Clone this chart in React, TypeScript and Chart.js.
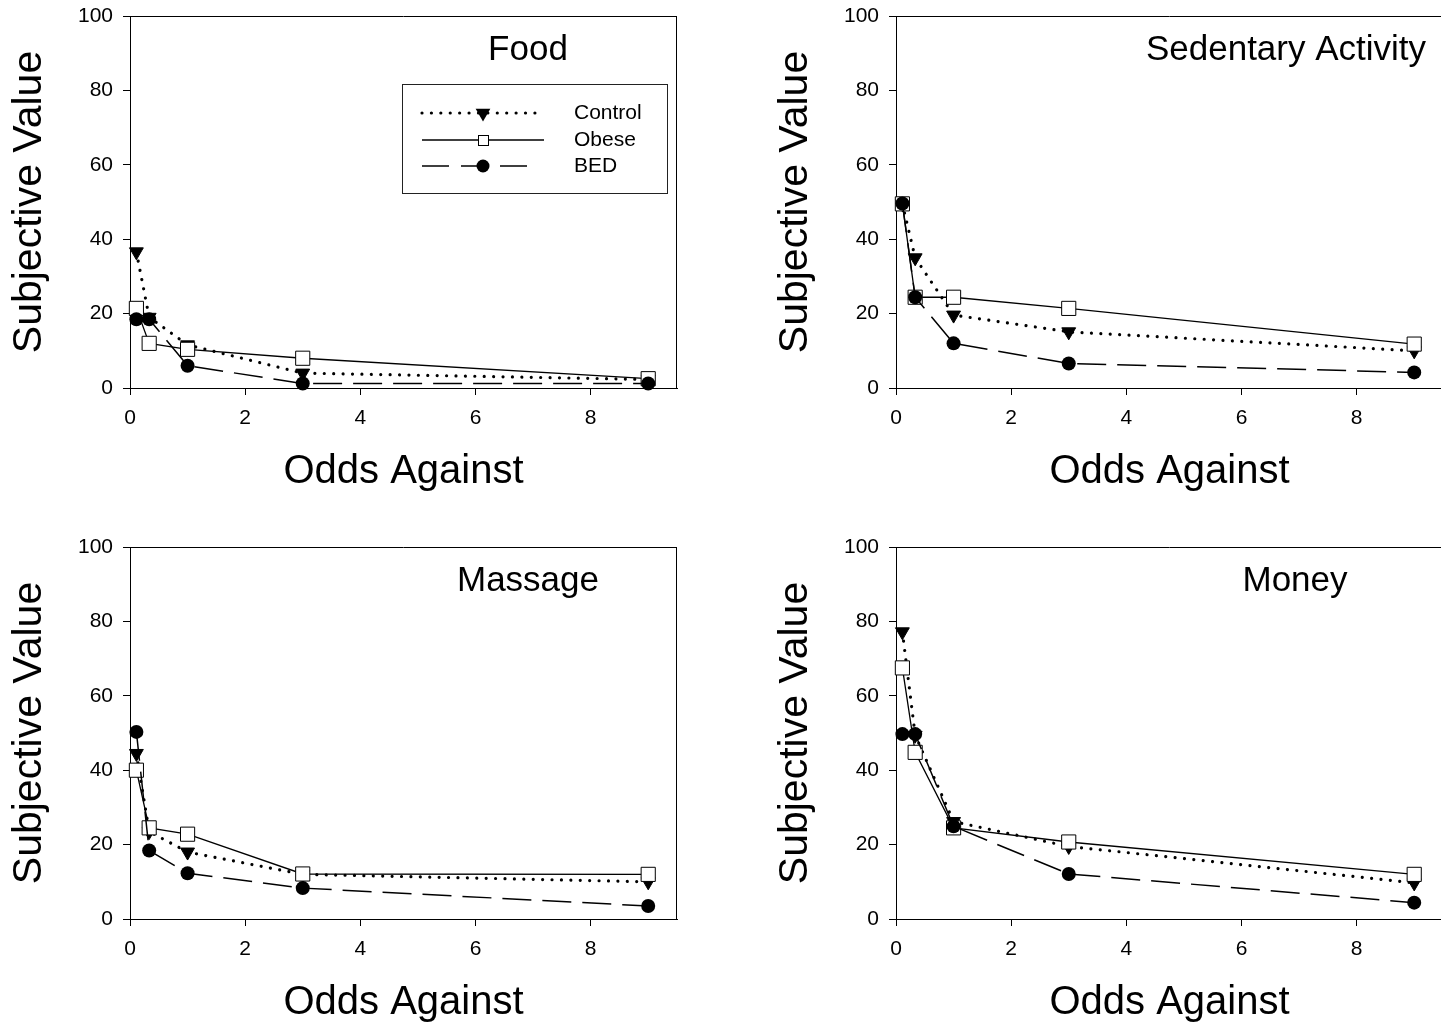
import React, { useEffect, useRef } from 'react';
import { Chart, registerables } from 'chart.js';

Chart.register(...registerables);

// ---- Data ----
const oddsAgainst = [0.111, 0.333, 1, 3, 9];
const xTicks = [0, 2, 4, 6, 8];
const yTicks = [0, 20, 40, 60, 80, 100];
const seriesNames = ['Control', 'Obese', 'BED'];
const panelTitles = ['Food', 'Sedentary Activity', 'Massage', 'Money'];
const xAxisTitle = 'Odds Against';
const yAxisTitle = 'Subjective Value';

const foodControl = [36.6, 19, 11.6, 4, 2.3];
const foodObese = [21.4, 12, 10.4, 8, 2.5];
const foodBED = [18.5, 18.5, 6, 1.2, 1.2];

const sedentaryControl = [49.5, 35, 19.6, 15.1, 10];
const sedentaryObese = [49.5, 24.4, 24.4, 21.4, 11.8];
const sedentaryBED = [49.6, 24.4, 12, 6.6, 4.2];

const massageControl = [44.5, 23.5, 18, 12, 10];
const massageObese = [40, 24.5, 22.8, 12.1, 12];
const massageBED = [50.3, 18.4, 12.3, 8.3, 3.5];

const moneyControl = [77.2, 49.4, 26.2, 19.5, 9.7];
const moneyObese = [67.5, 44.8, 24.5, 20.7, 12];
const moneyBED = [49.7, 49.7, 24.9, 12.1, 4.4];

const FONT = '"Liberation Sans", Arial, Helvetica, sans-serif';
const CW = 721;
const CH = 500;

function toPoints(vals: number[]) {
  return oddsAgainst.map((x, i) => ({ x, y: vals[i] }));
}

type PanelProps = {
  left: number;
  top: number;
  title: string;
  titleOffset: number;
  control: number[];
  obese: number[];
  bed: number[];
  legend?: boolean;
};

function Panel({ left, top, title, titleOffset, control, obese, bed, legend }: PanelProps) {
  const ref = useRef<HTMLCanvasElement>(null);
  useEffect(() => {
    const boxPlugin = {
      id: 'boxAndTitle',
      afterDraw(chart: any) {
        const { ctx, chartArea } = chart;
        ctx.save();
        ctx.strokeStyle = '#000';
        ctx.lineWidth = 1;
        ctx.beginPath();
        ctx.moveTo(chartArea.left, chartArea.top + 0.5);
        ctx.lineTo(chartArea.right, chartArea.top + 0.5);
        ctx.moveTo(chartArea.right - 0.5, chartArea.top);
        ctx.lineTo(chartArea.right - 0.5, chartArea.bottom);
        ctx.stroke();
        ctx.fillStyle = '#000';
        ctx.font = `35px ${FONT}`;
        ctx.textAlign = 'center';
        ctx.textBaseline = 'alphabetic';
        ctx.fillText(title, chartArea.left + titleOffset, chartArea.top + 44);

        if (legend) {
          const bx = chartArea.left + 272;
          const by = chartArea.top + 68;
          ctx.lineWidth = 1;
          ctx.strokeStyle = '#222';
          ctx.strokeRect(bx + 0.5, by + 0.5, 265, 109);
          const x0 = bx + 20;
          const x1 = bx + 142;
          const mx = bx + 81;
          const rows = [by + 29, by + 56, by + 82];
          // Control dotted
          ctx.strokeStyle = '#000';
          ctx.lineCap = 'round';
          ctx.lineWidth = 3.2;
          ctx.setLineDash([0.01, 9.4]);
          ctx.beginPath();
          ctx.moveTo(x0, rows[0]);
          ctx.lineTo(x1, rows[0]);
          ctx.stroke();
          // Obese solid
          ctx.lineCap = 'butt';
          ctx.lineWidth = 1.3;
          ctx.setLineDash([]);
          ctx.beginPath();
          ctx.moveTo(x0, rows[1]);
          ctx.lineTo(x1, rows[1]);
          ctx.stroke();
          // BED dashed
          ctx.lineWidth = 1.5;
          ctx.setLineDash([27, 12]);
          ctx.beginPath();
          ctx.moveTo(x0, rows[2]);
          ctx.lineTo(x1 - 12, rows[2]);
          ctx.stroke();
          ctx.setLineDash([]);
          // markers
          const r = 8.5;
          ctx.fillStyle = '#000';
          ctx.beginPath();
          ctx.moveTo(mx, rows[0] + r);
          ctx.lineTo(mx - r * 0.866, rows[0] - r / 2);
          ctx.lineTo(mx + r * 0.866, rows[0] - r / 2);
          ctx.closePath();
          ctx.fill();
          ctx.fillStyle = '#fff';
          ctx.lineWidth = 1;
          ctx.strokeStyle = '#000';
          ctx.fillRect(mx - 5, rows[1] - 5, 10, 10);
          ctx.strokeRect(mx - 5 + 0.5, rows[1] - 5 + 0.5, 10, 10);
          ctx.fillStyle = '#000';
          ctx.beginPath();
          ctx.arc(mx, rows[2], 6.5, 0, Math.PI * 2);
          ctx.fill();
          // text
          ctx.font = `21px ${FONT}`;
          ctx.textAlign = 'left';
          ctx.textBaseline = 'middle';
          seriesNames.forEach((n, i) => ctx.fillText(n, bx + 172, rows[i]));
        }
        ctx.restore();
      },
    };

    const chart = new Chart(ref.current as HTMLCanvasElement, {
      type: 'line',
      data: {
        datasets: [
          {
            label: seriesNames[0],
            data: toPoints(control),
            order: 2,
            borderColor: '#000',
            borderWidth: 3.2,
            borderDash: [0.01, 9.4],
            borderCapStyle: 'round',
            pointStyle: 'triangle',
            rotation: 180,
            pointRadius: 8,
            pointBackgroundColor: '#000',
            pointBorderColor: '#000',
            pointBorderWidth: 1,
            tension: 0,
            clip: false,
          },
          {
            label: seriesNames[1],
            data: toPoints(obese),
            order: 1,
            borderColor: '#000',
            borderWidth: 1.3,
            pointStyle: 'rect',
            pointRadius: 10,
            pointBackgroundColor: '#fff',
            pointBorderColor: '#000',
            pointBorderWidth: 1,
            tension: 0,
            clip: false,
          },
          {
            label: seriesNames[2],
            data: toPoints(bed),
            order: 0,
            borderColor: '#000',
            borderWidth: 1.5,
            borderDash: [29, 11],
            pointStyle: 'circle',
            pointRadius: 7,
            pointBackgroundColor: '#000',
            pointBorderColor: '#000',
            pointBorderWidth: 0,
            tension: 0,
            clip: false,
          },
        ] as any,
      },
      options: {
        responsive: false,
        maintainAspectRatio: false,
        animation: false,
        devicePixelRatio: 1,
        layout: { autoPadding: false, padding: { left: 0, right: 44, top: 16, bottom: 0 } },
        plugins: { legend: { display: false }, tooltip: { enabled: false }, title: { display: false } },
        scales: {
          x: {
            type: 'linear',
            min: 0,
            max: 9.5,
            afterBuildTicks: (s: any) => {
              s.ticks = xTicks.map((v) => ({ value: v }));
            },
            afterFit: (s: any) => {
              s.height = CH - 388;
              s.paddingLeft = 0;
              s.paddingRight = 0;
            },
            grid: { display: true, drawOnChartArea: false, drawTicks: true, tickLength: 7, color: '#000' },
            border: { display: true, color: '#000', width: 1 },
            ticks: { color: '#000', font: { family: FONT, size: 21 }, padding: 11, maxRotation: 0 },
            title: {
              display: true,
              text: xAxisTitle,
              color: '#000',
              font: { family: FONT, size: 40 },
              padding: { top: 0, bottom: 4 },
            },
          },
          y: {
            type: 'linear',
            min: 0,
            max: 100,
            afterBuildTicks: (s: any) => {
              s.ticks = yTicks.map((v) => ({ value: v }));
            },
            afterFit: (s: any) => {
              s.width = 130;
              s.paddingTop = 0;
              s.paddingBottom = 0;
            },
            grid: { display: true, drawOnChartArea: false, drawTicks: true, tickLength: 7, color: '#000' },
            border: { display: true, color: '#000', width: 1 },
            ticks: { color: '#000', font: { family: FONT, size: 21 }, padding: 10 },
            title: {
              display: true,
              text: yAxisTitle,
              color: '#000',
              font: { family: FONT, size: 41 },
              padding: { top: 5, bottom: 0 },
            },
          },
        },
      } as any,
      plugins: [boxPlugin],
    });
    return () => chart.destroy();
  }, []);
  return (
    <canvas
      ref={ref}
      width={CW}
      height={CH}
      style={{ position: 'absolute', left, top, width: CW, height: CH }}
    />
  );
}

export default function App() {
  return (
    <div
      style={{
        position: 'absolute',
        left: 0,
        top: 0,
        width: 1441,
        height: 1027,
        overflow: 'hidden',
        background: '#fff',
      }}
    >
      <Panel left={0} top={0} title={panelTitles[0]} titleOffset={398} control={foodControl} obese={foodObese} bed={foodBED} legend />
      <Panel left={766} top={0} title={panelTitles[1]} titleOffset={390} control={sedentaryControl} obese={sedentaryObese} bed={sedentaryBED} />
      <Panel left={0} top={531} title={panelTitles[2]} titleOffset={398} control={massageControl} obese={massageObese} bed={massageBED} />
      <Panel left={766} top={531} title={panelTitles[3]} titleOffset={399} control={moneyControl} obese={moneyObese} bed={moneyBED} />
    </div>
  );
}
